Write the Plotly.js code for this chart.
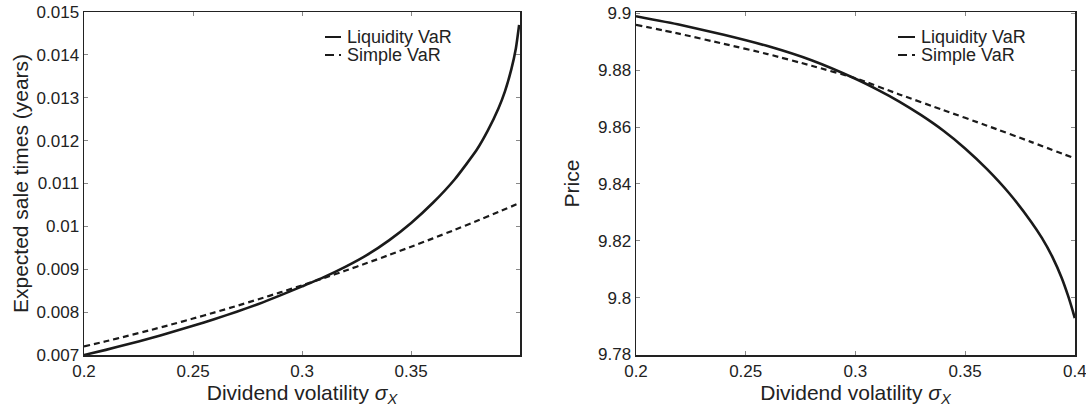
<!DOCTYPE html>
<html>
<head>
<meta charset="utf-8">
<script src="https://cdn.plot.ly/plotly-3.0.1.min.js"></script>
<style>html,body{margin:0;padding:0;background:#fff;}#chart{width:1086px;height:410px;}</style>
</head>
<body>
<div id="chart"></div>
<script>
// ---- Data ----
var seriesNames = ["Liquidity VaR", "Simple VaR"];

// Left panel: expected sale times (years)
var xLeftLiq = [0.20,0.21,0.22,0.23,0.24,0.25,0.26,0.27,0.28,0.29,0.30,0.31,0.32,0.33,0.34,0.35,0.36,0.37,0.38,0.385,0.39,0.393,0.396,0.398,0.3995];
var yLeftLiq = [0.007000,0.007120,0.007250,0.007385,0.007530,0.007680,0.007840,0.008010,0.008190,0.008390,0.008600,0.008815,0.009060,0.009340,0.009680,0.010080,0.010550,0.011100,0.011780,0.012220,0.012750,0.013150,0.013680,0.014150,0.014700];
var xLeftSimple = [0.20,0.21,0.22,0.23,0.24,0.25,0.26,0.27,0.28,0.29,0.30,0.31,0.32,0.33,0.34,0.35,0.36,0.37,0.38,0.39,0.3995];
var yLeftSimple = [0.007200,0.007320,0.007445,0.007575,0.007710,0.007850,0.007995,0.008145,0.008300,0.008460,0.008625,0.008795,0.008970,0.009150,0.009335,0.009525,0.009720,0.009920,0.010125,0.010335,0.010540];

// Right panel: price
var xRightLiq = [0.20,0.22,0.24,0.26,0.28,0.30,0.31,0.32,0.33,0.34,0.35,0.36,0.37,0.38,0.385,0.39,0.394,0.397,0.399,0.40];
var yRightLiq = [9.8990,9.8960,9.8925,9.8885,9.8835,9.8770,9.8732,9.8690,9.8642,9.8588,9.8525,9.8452,9.8368,9.8268,9.8210,9.8140,9.8070,9.8005,9.7955,9.7928];
var xRightSimple = [0.20,0.22,0.24,0.26,0.28,0.30,0.32,0.34,0.36,0.38,0.40];
var yRightSimple = [9.8960,9.8928,9.8893,9.8857,9.8816,9.8772,9.8715,9.8660,9.8605,9.8548,9.8490];

// Ticks
var xTicksLeft = [0.2,0.25,0.3,0.35];
var xTickTextLeft = ["0.2","0.25","0.3","0.35"];
var xTicksRight = [0.2,0.25,0.3,0.35,0.4];
var xTickTextRight = ["0.2","0.25","0.3","0.35","0.4"];
var yTicksLeft = [0.007,0.008,0.009,0.010,0.011,0.012,0.013,0.014,0.015];
var yTickTextLeft = ["0.007","0.008","0.009","0.01","0.011","0.012","0.013","0.014","0.015"];
var yTicksRight = [9.78,9.80,9.82,9.84,9.86,9.88,9.90];
var yTickTextRight = ["9.78","9.8","9.82","9.84","9.86","9.88","9.9"];

var xTitle = "Dividend volatility <i>σ<sub>X</sub></i>";
var yTitleLeft = "Expected sale times (years)";
var yTitleRight = "Price";

// ---- Styling ----
var ink = "#1a1a1a";
var fontFam = "Liberation Sans, Arial, Helvetica, sans-serif";
var solidLine = {color: ink, width: 2.6, shape: "spline", smoothing: 0.5};
var dashLine = {color: ink, width: 2.2, dash: "6px,4px", shape: "spline", smoothing: 0.5};

var traces = [
  {x: xLeftLiq, y: yLeftLiq, name: seriesNames[0], mode: "lines", line: solidLine, xaxis: "x", yaxis: "y"},
  {x: xLeftSimple, y: yLeftSimple, name: seriesNames[1], mode: "lines", line: dashLine, xaxis: "x", yaxis: "y"},
  {x: xRightLiq, y: yRightLiq, name: seriesNames[0], mode: "lines", line: solidLine, xaxis: "x2", yaxis: "y2"},
  {x: xRightSimple, y: yRightSimple, name: seriesNames[1], mode: "lines", line: dashLine, xaxis: "x2", yaxis: "y2"}
];

var tickFont = {family: fontFam, size: 17, color: "#222"};
var titleFont = {family: fontFam, size: 21, color: "#222"};
function axisBase() {
  return {
    showline: true, linecolor: "#222", linewidth: 1.5, mirror: "ticks",
    ticks: "inside", ticklen: 4, tickwidth: 1, tickcolor: "#888",
    showgrid: false, zeroline: false, tickfont: tickFont, tickmode: "array",
    ticklabeloverflow: "allow"
  };
}
var yDomain = [55/410, 398/410];

var xa = Object.assign(axisBase(), {domain: [84/1086, 520/1086], range: [0.2, 0.3999], tickvals: xTicksLeft, ticktext: xTickTextLeft, anchor: "y",
  title: {text: xTitle, font: titleFont, standoff: 2}});
var ya = Object.assign(axisBase(), {domain: yDomain, range: [0.007, 0.015], tickvals: yTicksLeft, ticktext: yTickTextLeft, anchor: "x",
  title: {text: yTitleLeft, font: titleFont, standoff: 2}});
var xa2 = Object.assign(axisBase(), {domain: [636/1086, 1075/1086], range: [0.2, 0.4001], tickvals: xTicksRight, ticktext: xTickTextRight, anchor: "y2",
  title: {text: xTitle, font: titleFont, standoff: 2}});
var ya2 = Object.assign(axisBase(), {domain: yDomain, range: [9.7798, 9.9005], tickvals: yTicksRight, ticktext: yTickTextRight, anchor: "x2",
  title: {text: yTitleRight, font: titleFont, standoff: 12}});

// ---- Legends (drawn as short line samples + text, Matlab style) ----
var legendFont = {family: fontFam, size: 18, color: "#222"};
function legendParts(lineX0, lineX1, textX) {
  var rows = [37, 55];
  var shapes = [], annos = [];
  rows.forEach(function (py, i) {
    var yPaper = 1 - py / 410;
    shapes.push({type: "line", xref: "paper", yref: "paper",
      x0: lineX0 / 1086, x1: lineX1 / 1086, y0: yPaper, y1: yPaper,
      line: {color: ink, width: 2, dash: i === 0 ? "solid" : "9px,5px"}});
    annos.push({xref: "paper", yref: "paper", x: textX / 1086, y: yPaper,
      xanchor: "left", yanchor: "middle", text: seriesNames[i], showarrow: false, font: legendFont});
  });
  return {shapes: shapes, annos: annos};
}
var legL = legendParts(325, 341, 345);
var legR = legendParts(898, 915, 919);

var layout = {
  width: 1086, height: 410,
  margin: {l: 0, r: 0, t: 0, b: 0},
  paper_bgcolor: "#fff", plot_bgcolor: "#fff",
  showlegend: false,
  xaxis: xa, yaxis: ya, xaxis2: xa2, yaxis2: ya2,
  shapes: legL.shapes.concat(legR.shapes),
  annotations: legL.annos.concat(legR.annos)
};

Plotly.newPlot("chart", traces, layout, {displayModeBar: false, staticPlot: true});
</script>
</body>
</html>
